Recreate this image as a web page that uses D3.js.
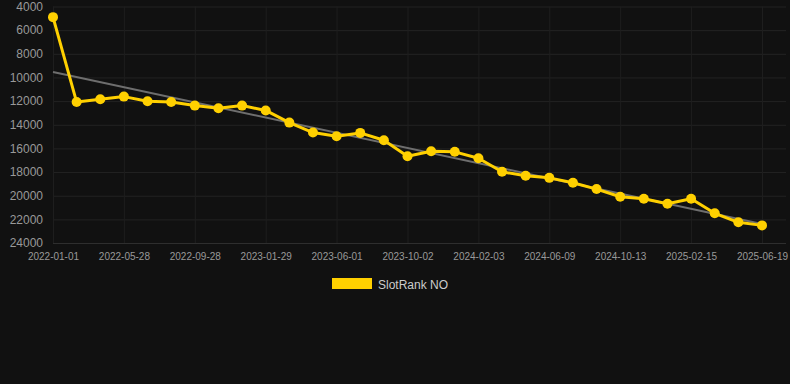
<!DOCTYPE html>
<html>
<head>
<meta charset="utf-8">
<script src="https://cdn.jsdelivr.net/npm/d3@7/dist/d3.min.js"></script>
<style>
  html, body { margin: 0; padding: 0; background: #111111; }
  svg { display: block; }
</style>
</head>
<body>
<svg id="chart" width="790" height="384"></svg>
<script>
const dates = [
  "2022-01-01","2022-02-19","2022-04-09","2022-05-28","2022-07-08","2022-08-18",
  "2022-09-28","2022-11-08","2022-12-19","2023-01-29","2023-03-12","2023-04-22",
  "2023-06-01","2023-07-12","2023-08-22","2023-10-02","2023-11-12","2023-12-23",
  "2024-02-03","2024-03-16","2024-04-27","2024-06-09","2024-07-21","2024-09-01",
  "2024-10-13","2024-11-24","2025-01-04","2025-02-15","2025-03-29","2025-05-09",
  "2025-06-19"
];
const rankValues = [
  4900, 12080, 11850, 11620, 12020, 12080,
  12380, 12610, 12380, 12790, 13820, 14660,
  14970, 14690, 15310, 16660, 16240, 16290,
  16830, 17980, 18320, 18490, 18910, 19440,
  20090, 20260, 20680, 20260, 21490, 22250,
  22510
];
const yTicks = [4000, 6000, 8000, 10000, 12000, 14000, 16000, 18000, 20000, 22000, 24000];
const xTickLabels = ["2022-01-01","2022-05-28","2022-09-28","2023-01-29","2023-06-01","2023-10-02",
                     "2024-02-03","2024-06-09","2024-10-13","2025-02-15","2025-06-19"];
const seriesName = "SlotRank NO";

(function () {
const svg = d3.select("#chart");
const mLeft = 53, mRight = 762, mTop = 6.5, mBottom = 243, gridRight = 786;

const x = d3.scalePoint().domain(dates).range([mLeft, mRight]).padding(0);
const y = d3.scaleLinear().domain([4000, 24000]).range([mTop, mBottom]);

svg.append("rect").attr("width", 790).attr("height", 384).attr("fill", "#111111");

// Horizontal grid + y labels
const gy = svg.append("g").attr("transform", `translate(${mLeft},0)`)
  .call(d3.axisLeft(y).tickValues(yTicks).tickSize(-(gridRight - mLeft)).tickFormat(d3.format("d")).tickPadding(10));
gy.select(".domain").remove();
gy.selectAll(".tick line").attr("stroke", "#232323").attr("stroke-width", 1);
gy.selectAll(".tick text").attr("fill", "#999999").style("font-family", "Liberation Sans, Arial, sans-serif").style("font-size", "12px");
gy.selectAll(".tick").filter(d => d === 24000).select("line").attr("stroke", "#2e2e2e");

// Vertical grid + x labels
const gx = svg.append("g").attr("transform", `translate(0,${mBottom})`)
  .call(d3.axisBottom(x).tickValues(xTickLabels).tickSize(-(mBottom - mTop)).tickPadding(10));
gx.select(".domain").remove();
gx.selectAll(".tick line").attr("stroke", "#1e1e1e").attr("stroke-width", 1);
gx.selectAll(".tick text").attr("fill", "#999999").style("font-family", "Liberation Sans, Arial, sans-serif").style("font-size", "10px");

// Linear regression trend line
const n = rankValues.length;
const idx = d3.range(n);
const mx = d3.mean(idx), my = d3.mean(rankValues);
const slope = d3.sum(idx, i => (i - mx) * (rankValues[i] - my)) / d3.sum(idx, i => (i - mx) ** 2);
const intercept = my - slope * mx;
svg.append("line")
  .attr("x1", x(dates[0])).attr("y1", y(intercept))
  .attr("x2", x(dates[n - 1])).attr("y2", y(intercept + slope * (n - 1)))
  .attr("stroke", "#6e6e6e").attr("stroke-width", 2);

// Series line
const line = d3.line().x((d, i) => x(dates[i])).y(d => y(d));
svg.append("path").datum(rankValues)
  .attr("d", line).attr("fill", "none")
  .attr("stroke", "#FFD000").attr("stroke-width", 3).attr("stroke-linejoin", "round");

svg.append("g").selectAll("circle").data(rankValues).join("circle")
  .attr("cx", (d, i) => x(dates[i])).attr("cy", d => y(d)).attr("r", 5)
  .attr("fill", "#FFD000");

// Legend
const lg = svg.append("g");
lg.append("rect").attr("x", 332).attr("y", 278).attr("width", 40).attr("height", 11).attr("fill", "#FFD000");
lg.append("text").attr("x", 378).attr("y", 288.5).text(seriesName)
  .attr("fill", "#cccccc").style("font-family", "Liberation Sans, Arial, sans-serif").style("font-size", "12px");
})();
</script>
</body>
</html>
